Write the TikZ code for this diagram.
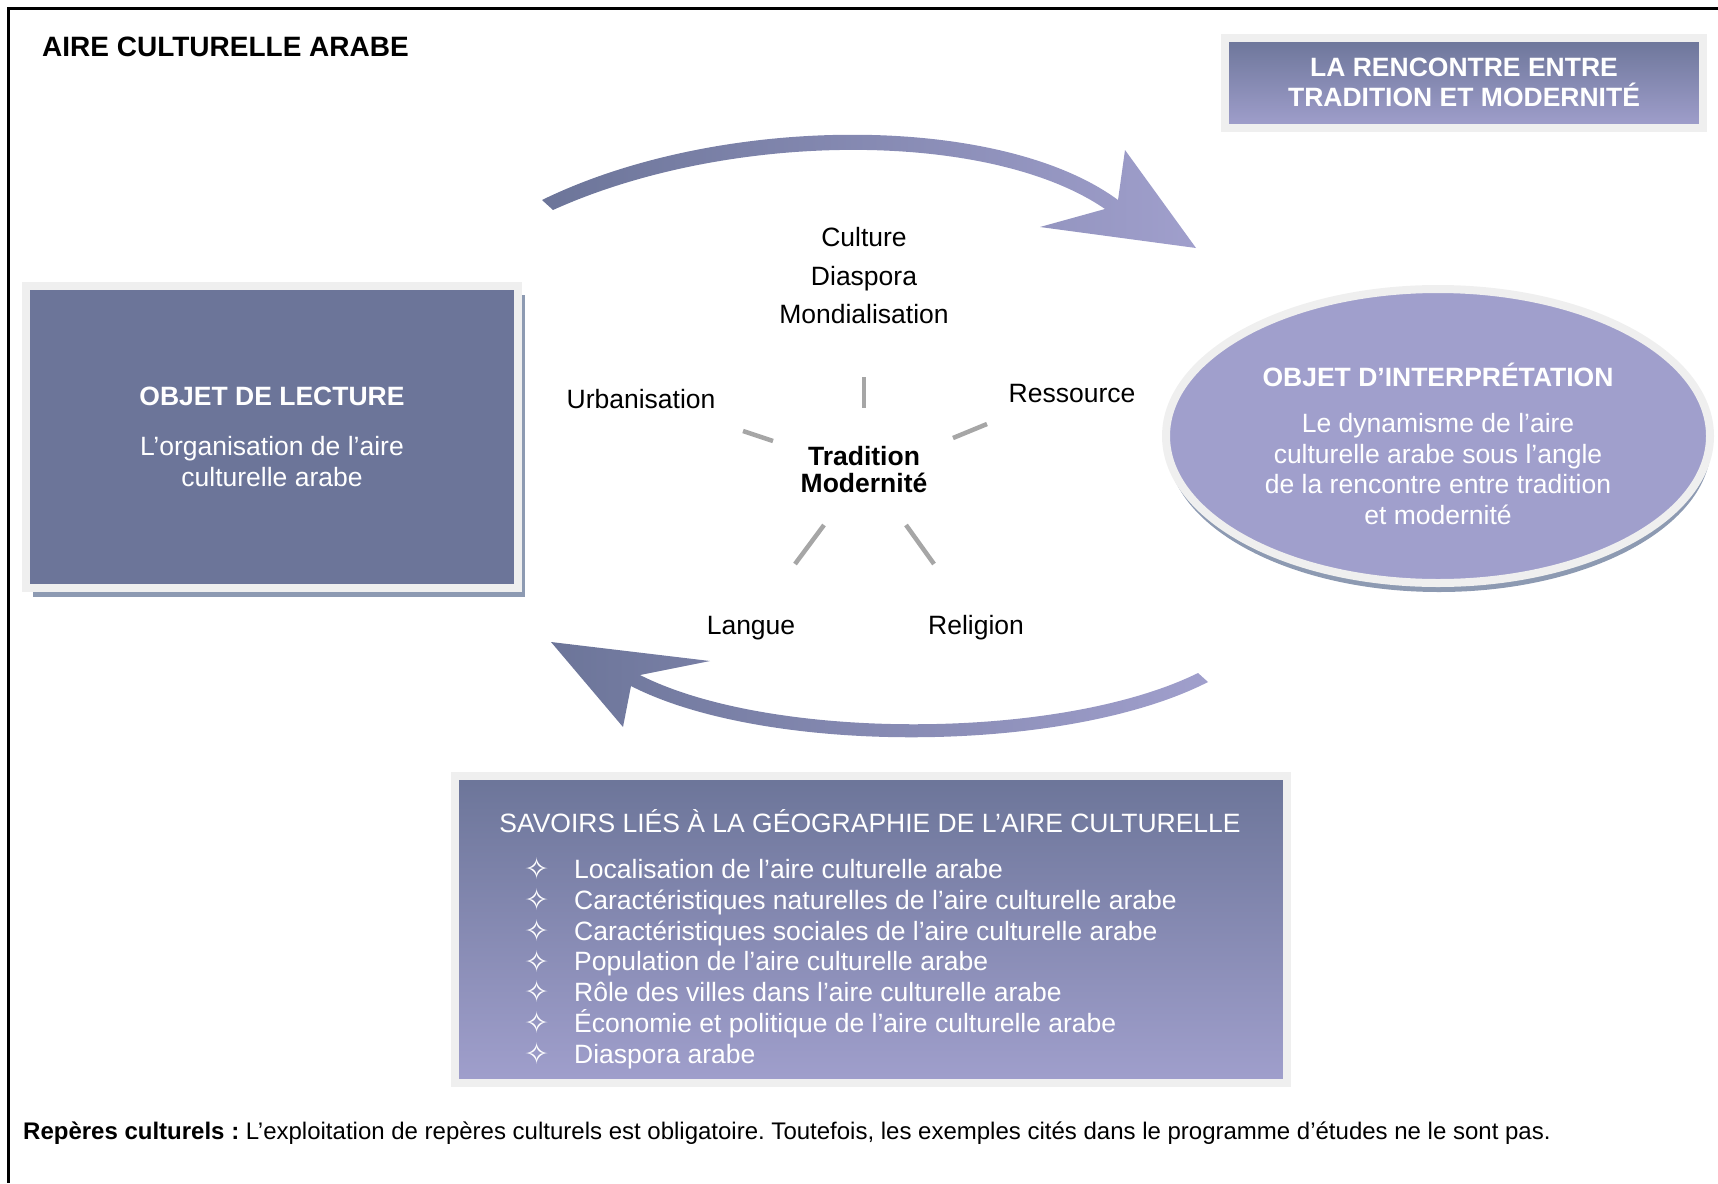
\documentclass[tikz,border=0pt]{standalone}
\usepackage{fontspec}
\setmainfont{Liberation Sans}
\newfontfamily\starfont{DejaVu Sans}
\usetikzlibrary{shapes.geometric,shadows}

\definecolor{slate}{HTML}{6C7599}
\definecolor{lilac}{HTML}{A09FCC}
\definecolor{rim}{HTML}{EFEFEF}
\definecolor{shadowblue}{HTML}{8D9AB2}
\definecolor{spokegray}{HTML}{A6A6A6}
\newcommand\bodysize{\fontsize{26.5}{30.5}\selectfont}
\frenchspacing

\begin{document}
\begin{tikzpicture}[x=1pt,y=-1pt,
  txt/.style={font=\bodysize, anchor=base, inner sep=0pt},
  boxtxt/.style={text=white, align=center},
  panel/.style={draw=rim, line width=8pt, inner sep=0pt},
  spoke/.style={draw=spokegray, line width=4.5pt}]
\useasboundingbox (0,0) rectangle (1718,1183);
\draw[line width=2.7pt] (1718,8.7) -- (8.7,8.7) -- (8.7,1183);

\node[anchor=base west, inner sep=0pt, font=\fontsize{28}{32}\selectfont\bfseries] (titre) at (42,56) {AIRE CULTURELLE ARABE};

\node[panel, top color=slate, bottom color=lilac, minimum width=478pt, minimum height=90pt,
  boxtxt, font=\bodysize\bfseries] (rencontre) at (1464,82.5) {LA RENCONTRE ENTRE\\TRADITION ET MODERNITÉ};

\node[panel, fill=slate, minimum width=492pt, minimum height=302pt, boxtxt, font=\bodysize,
  drop shadow={shadow xshift=7pt, shadow yshift=-9pt, fill=shadowblue, opacity=1}] (lecture) at (272,437)
  {\textbf{OBJET DE LECTURE}\\[19.5pt]L’organisation de l’aire\\culturelle arabe};

\node[panel, ellipse, fill=lilac, minimum width=544pt, minimum height=294pt,
  drop shadow={shadow xshift=1pt, shadow yshift=-9pt, fill=shadowblue, opacity=1}] (interp) at (1438,436) {};
\node[boxtxt, font=\bodysize] (interptxt) at (1438,443.8)
  {\textbf{OBJET D’INTERPRÉTATION}\\[15.5pt]Le dynamisme de l’aire\\culturelle arabe sous l’angle\\de la rencontre entre tradition\\et modernité};

\shade[left color=slate, right color=lilac] (542,200) .. controls (720,113) and (1000,113) .. (1118,200)
  -- (1125,150) -- (1196,248) -- (1040,227) -- (1105,209) .. controls (990,130) and (730,130) .. (553,210) -- cycle;
\shade[left color=slate, right color=lilac] (1198,673) .. controls (1060,741) and (770,741) .. (640,675)
  -- (710,661) -- (551,642) -- (623,727) -- (631,686) .. controls (765,755) and (1065,755) .. (1208,682) -- cycle;

\node[txt] (culture) at (864,246) {Culture};
\node[txt] (diaspora) at (864,285) {Diaspora};
\node[txt] (mondial) at (864,323) {Mondialisation};
\node[txt] (urbain) at (641,408) {Urbanisation};
\node[txt] (ressource) at (1072,402) {Ressource};
\node[txt] (langue) at (751,634) {Langue};
\node[txt] (religion) at (976,634) {Religion};
\node[txt, font=\bodysize\bfseries] (tradition) at (864,465) {Tradition};
\node[txt, font=\bodysize\bfseries] (modernite) at (864,492) {Modernité};

\foreach \xa/\ya/\xb/\yb in {864/377/864/408, 743/431/773/441, 953/438/987/424, 824/525/795/564, 906/525/934/564}
  \draw[spoke] (\xa,\ya) -- (\xb,\yb);

\node[panel, top color=slate, bottom color=lilac, minimum width=832pt, minimum height=307pt] (savoirs) at (871,929.5) {};
\node[txt, text=white] (savoirstitre) at (870,832.5) {SAVOIRS LIÉS À LA GÉOGRAPHIE DE L’AIRE CULTURELLE};
\foreach \lbl [count=\i from 0] in {Localisation de l’aire culturelle arabe,
    Caractéristiques naturelles de l’aire culturelle arabe,
    Caractéristiques sociales de l’aire culturelle arabe,
    Population de l’aire culturelle arabe,
    Rôle des villes dans l’aire culturelle arabe,
    Économie et politique de l’aire culturelle arabe,
    Diaspora arabe} {
  \node[txt, text=white, anchor=base west] (item\i) at (574,878.5+30.75*\i) {\lbl};
  \node[text=white, inner sep=0pt, font=\starfont\fontsize{30}{30}\selectfont] (star\i) at (537,869+30.75*\i) {✧};
}

\node[anchor=base west, inner sep=0pt, font=\fontsize{24}{28}\selectfont] (reperes) at (23,1139)
  {\textbf{Repères culturels :} L’exploitation de repères culturels est obligatoire. Toutefois, les exemples cités dans le programme d’études ne le sont pas.};
\end{tikzpicture}
\end{document}
